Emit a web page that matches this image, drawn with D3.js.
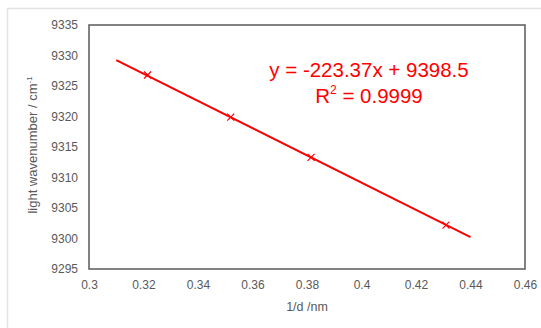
<!DOCTYPE html>
<html>
<head>
<meta charset="utf-8">
<script src="https://cdn.jsdelivr.net/npm/d3@7"></script>
<style>
  body { margin: 0; background: #fff; }
  svg { display: block; font-family: "Liberation Sans", Arial, sans-serif; }
</style>
</head>
<body>
<svg id="chart" width="541" height="328"></svg>
<script>
// measured points (1/d, wavenumber)
var xValues = [0.3215, 0.352, 0.3815, 0.431]
var yValues = [9326.8, 9319.9, 9313.3, 9302.2]

// trendline as shown by the spreadsheet
var slope = -223.37
var intercept = 9398.5
var trendRange = [0.31, 0.44]
var equationText = "y = -223.37x + 9398.5"
var r2Text = "0.9999"

var xTicks = [0.3, 0.32, 0.34, 0.36, 0.38, 0.4, 0.42, 0.44, 0.46]
var yTicks = [9295, 9300, 9305, 9310, 9315, 9320, 9325, 9330, 9335]

var svg = d3.select("#chart")
var red = "#ff0000"
var grey = "#595959"

// outer frame (just top and left edges are visible)
svg.append("line").attr("x1", 7).attr("x2", 541).attr("y1", 8.5).attr("y2", 8.5)
  .style("stroke", "#e3e3e3").style("stroke-width", 1.5)
svg.append("line").attr("x1", 7.5).attr("x2", 7.5).attr("y1", 8).attr("y2", 328)
  .style("stroke", "#e3e3e3").style("stroke-width", 1.5)

var x = d3.scaleLinear().domain([0.3, 0.46]).range([89, 525])
var y = d3.scaleLinear().domain([9295, 9335]).range([269, 25])

// plot area box
svg.append("rect")
  .attr("x", x(0.3)).attr("y", y(9335))
  .attr("width", x(0.46) - x(0.3)).attr("height", y(9295) - y(9335))
  .style("fill", "none").style("stroke", grey).style("stroke-width", 1.5)

// axes: labels only, the box draws the lines
svg.append("g").attr("transform", "translate(0," + y(9295) + ")")
  .call(d3.axisBottom(x).tickValues(xTicks).tickSize(0).tickPadding(11)
    .tickFormat(function(d) { return String(+d.toFixed(2)) }))
svg.append("g").attr("transform", "translate(" + x(0.3) + ",0)")
  .call(d3.axisLeft(y).tickValues(yTicks).tickSize(0).tickPadding(11)
    .tickFormat(d3.format("d")))
svg.selectAll(".domain").remove()
svg.selectAll(".tick text")
  .style("font-size", "12px").style("fill", grey)
  .style("font-family", "'Liberation Sans', Arial, sans-serif")

// axis titles
svg.append("text").attr("x", 307).attr("y", 311)
  .attr("text-anchor", "middle").style("font-size", "12.5px").style("fill", grey)
  .text("1/d /nm")

var yTitle = svg.append("text")
  .attr("transform", "translate(37,145) rotate(-90)")
  .attr("text-anchor", "middle").style("font-size", "13px").style("fill", grey)
yTitle.append("tspan").text("light wavenumber / cm")
yTitle.append("tspan").attr("dy", -5).style("font-size", "8px").text("-1")

// trendline
svg.append("line")
  .attr("x1", x(trendRange[0])).attr("y1", y(slope * trendRange[0] + intercept))
  .attr("x2", x(trendRange[1])).attr("y2", y(slope * trendRange[1] + intercept))
  .style("stroke", red).style("stroke-width", 2)

// x markers
var pts = xValues.map(function(d, i) { return [d, yValues[i]] })
var s = 3.5
svg.selectAll(".mark").data(pts).enter().append("path")
  .attr("class", "mark")
  .attr("d", function(d) {
    var cx = x(d[0]), cy = y(d[1])
    return "M" + (cx - s) + "," + (cy - s) + "L" + (cx + s) + "," + (cy + s) +
      "M" + (cx - s) + "," + (cy + s) + "L" + (cx + s) + "," + (cy - s)
  })
  .style("stroke", red).style("stroke-width", 1.2).style("fill", "none")

// equation labels
svg.append("text").attr("x", 369).attr("y", 77)
  .attr("text-anchor", "middle").style("font-size", "20.5px").style("fill", red)
  .text(equationText)
var r2 = svg.append("text").attr("x", 369).attr("y", 103)
  .attr("text-anchor", "middle").style("font-size", "20.5px").style("fill", red)
r2.append("tspan").text("R")
r2.append("tspan").attr("dy", -9).style("font-size", "12px").text("2")
r2.append("tspan").attr("dy", 9).text(" = " + r2Text)
</script>
</body>
</html>
